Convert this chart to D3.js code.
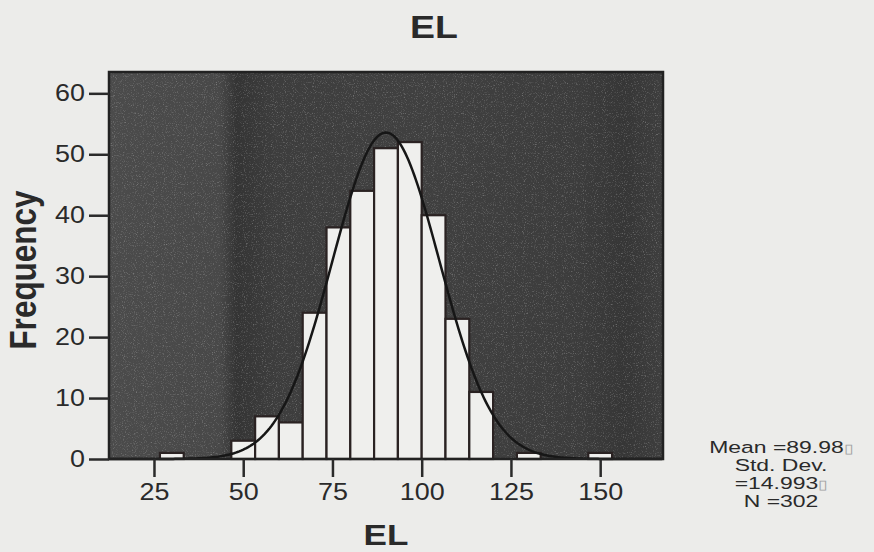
<!DOCTYPE html>
<html>
<head>
<meta charset="utf-8">
<script src="https://d3js.org/d3.v7.min.js"></script>
<style>
body {
  margin: 0;
  background-color: #ececea;
}
svg text {
  font-family: Arial, "Liberation Sans", sans-serif;
  fill: #2a2a2a;
}
.axis line {
  stroke: #2a2a2a;
  stroke-width: 2.5;
}
.axis text {
  font-size: 23px;
}
</style>
</head>
<body>
<script>

// histogram of EL, bin width 20/3
const binCenters = [30, 50, 56.67, 63.33, 70, 76.67, 83.33, 90, 96.67, 103.33, 110, 116.67, 130, 150];
const counts     = [1, 3, 7, 6, 24, 38, 44, 51, 52, 40, 23, 11, 1, 1];
const binWidth = 20 / 3;

const xTicks = [25, 50, 75, 100, 125, 150];
const yTicks = [0, 10, 20, 30, 40, 50, 60];

const mean = 89.98;
const sd = 14.993;
const n = 302;
const statLines = ["Mean =89.98", "Std. Dev.", "=14.993", "N =302"];

const W = 874, H = 552;
// the scanned chart is a bit wider than tall, so text gets stretched sideways
const SX = 1.17;

const svg = d3.select("body").append("svg")
  .attr("width", W)
  .attr("height", H);

const plot = {left: 109, right: 663, top: 72, bottom: 459};

const x = d3.scaleLinear().domain([12.4, 167.6]).range([plot.left, plot.right]);
const y = d3.scaleLinear().domain([0, 63.5]).range([plot.bottom, plot.top]);

// dark speckled backdrop with a few vertical bands, like the scan
const defs = svg.append("defs");
const grad = defs.append("linearGradient").attr("id", "bg");
[[0, "#4b4b4b"], [0.2, "#484848"], [0.23, "#343434"], [0.3, "#3d3d3d"], [0.55, "#404040"],
 [0.85, "#3c3c3c"], [0.93, "#363636"], [1, "#3e3e3e"]]
  .forEach(s => grad.append("stop").attr("offset", s[0]).attr("stop-color", s[1]));

const noise = defs.append("filter").attr("id", "noise").attr("x", 0).attr("y", 0)
  .attr("width", "100%").attr("height", "100%");
noise.append("feTurbulence").attr("type", "fractalNoise").attr("baseFrequency", 0.9)
  .attr("numOctaves", 2).attr("seed", 3);
noise.append("feColorMatrix").attr("type", "matrix")
  .attr("values", "0 0 0 0 1  0 0 0 0 1  0 0 0 0 1  0 0 0 1.8 -1.0");

svg.append("rect")
  .attr("x", plot.left).attr("y", plot.top)
  .attr("width", plot.right - plot.left).attr("height", plot.bottom - plot.top)
  .attr("fill", "url(#bg)");
svg.append("rect")
  .attr("x", plot.left).attr("y", plot.top)
  .attr("width", plot.right - plot.left).attr("height", plot.bottom - plot.top)
  .attr("filter", "url(#noise)")
  .attr("opacity", 0.45);

// bars
svg.append("g").selectAll("rect")
  .data(binCenters.map((c, i) => ({c: c, v: counts[i]})))
  .join("rect")
  .attr("x", d => x(d.c - binWidth / 2))
  .attr("width", d => x(d.c + binWidth / 2) - x(d.c - binWidth / 2))
  .attr("y", d => y(d.v))
  .attr("height", d => y(0) - y(d.v))
  .attr("fill", "#efefed")
  .attr("stroke", "#2a2222")
  .attr("stroke-width", 2.2);

// fitted normal curve
const curvePts = d3.range(x.domain()[0], x.domain()[1] + 0.01, 0.5).map(v =>
  [v, n * binWidth * Math.exp(-0.5 * ((v - mean) / sd) ** 2) / (sd * Math.sqrt(2 * Math.PI))]);
svg.append("path").datum(curvePts)
  .attr("fill", "none")
  .attr("stroke", "#161616")
  .attr("stroke-width", 2.5)
  .attr("d", d3.line().x(d => x(d[0])).y(d => y(d[1])));

// frame
svg.append("rect")
  .attr("x", plot.left).attr("y", plot.top)
  .attr("width", plot.right - plot.left).attr("height", plot.bottom - plot.top)
  .attr("fill", "none")
  .attr("stroke", "#222")
  .attr("stroke-width", 2.5);

// stretch axis labels around their own anchor
function stretchTicks(g, attr) {
  g.selectAll("text").each(function() {
    const t = d3.select(this);
    const v = +t.attr(attr) || 0;
    t.attr(attr, 0).attr("transform", attr === "x"
      ? `translate(${v},0) scale(${SX},1)`
      : `translate(0,${v}) scale(${SX},1)`);
  });
}

svg.append("g")
  .attr("class", "axis")
  .attr("transform", `translate(${plot.left},0)`)
  .call(d3.axisLeft(y).tickValues(yTicks).tickSize(20).tickPadding(4))
  .call(g => g.select(".domain").remove())
  .call(g => stretchTicks(g, "x"));

svg.append("g")
  .attr("class", "axis")
  .attr("transform", `translate(0,${plot.bottom})`)
  .call(d3.axisBottom(x).tickValues(xTicks).tickSize(18).tickPadding(7))
  .call(g => g.select(".domain").remove())
  .call(g => stretchTicks(g, "y"));

// titles
svg.append("text")
  .attr("transform", `translate(434,38) scale(${SX},1)`)
  .attr("text-anchor", "middle")
  .attr("font-size", 32).attr("font-weight", "bold")
  .text("EL");

svg.append("text")
  .attr("transform", `translate(${(plot.left + plot.right) / 2},545) scale(${SX},1)`)
  .attr("text-anchor", "middle")
  .attr("font-size", 30).attr("font-weight", "bold")
  .text("EL");

svg.append("text")
  .attr("transform", `translate(36,270) scale(${SX},1) rotate(-90)`)
  .attr("text-anchor", "middle")
  .attr("font-size", 31.5).attr("font-weight", "bold")
  .text("Frequency");

// stats text
const stats = svg.append("text")
  .attr("transform", "translate(781,0) scale(1.35,1)")
  .attr("text-anchor", "middle")
  .attr("font-size", 17);
statLines.forEach((s, i) => {
  stats.append("tspan")
    .attr("x", 0).attr("y", 453 + i * 18)
    .text(s);
  if (i === 0 || i === 2) {
    stats.append("tspan").attr("fill", "#a0a0a0").attr("font-size", 13).text("\u25AF");
  }
});

</script>
</body>
</html>
